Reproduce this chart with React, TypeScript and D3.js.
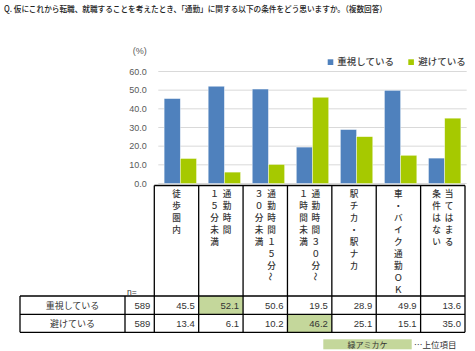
import React from "react";
import * as d3 from "d3";

const title = "Q. 仮にこれから転職、就職することを考えたとき、「通勤」に関する以下の条件をどう思いますか。（複数回答）";
const seriesNames = ["重視している", "避けている"];
const categoryLines: string[][] = [
  ["徒歩圏内"],
  ["通勤時間", "１５分未満"],
  ["通勤時間１５分～", "３０分未満"],
  ["通勤時間３０分～", "１時間未満"],
  ["駅チカ・駅ナカ"],
  ["車・バイク通勤ＯＫ"],
  ["当てはまる", "条件はない"],
];
const juushi = [45.5, 52.1, 50.6, 19.5, 28.9, 49.9, 13.6];
const sake = [13.4, 6.1, 10.2, 46.2, 25.1, 15.1, 35.0];
const nValues = [589, 589];
const highlights: [number, number][] = [
  [0, 1],
  [1, 3],
];
const yTicks = [0, 10, 20, 30, 40, 50, 60];

const BLUE = "#4f81bd";
const GREEN = "#a6c900";
const HL = "#c4d79b";
const JP = "'Noto Sans CJK JP', 'Noto Sans', sans-serif";
const NUM = "'Liberation Sans', Arial, sans-serif";

export default function App() {
  const W = 475;
  const H = 351;
  const idx = d3.range(juushi.length).map(String);
  const x = d3.scaleBand<string>().domain(idx).range([158.3, 466.7]).padding(0);
  const xs = d3
    .scaleBand<string>()
    .domain(["0", "1"])
    .range([0, x.bandwidth()])
    .paddingInner(0)
    .paddingOuter(0.36);
  const y = d3.scaleLinear().domain([0, 60]).range([183.5, 71.5]);
  const tx = d3.scaleBand<string>().domain(idx).range([154.3, 465]).padding(0);
  const series = [juushi, sake];
  const colors = [BLUE, GREEN];

  const tableTop = 185.5;
  const rowY = [296, 314.3, 332.3];
  const leftX = 20;
  const nX = 125;

  return (
    <svg
      width={W}
      height={H}
      style={{ position: "absolute", left: 0, top: 0, background: "#fff" }}
    >
      <rect x={0} y={0} width={W} height={H} fill="#fff" />
      <text x={4} y={12} fontFamily={JP} fontSize={8.5} fill="#222" fontWeight={500} textLength={383} lengthAdjust="spacingAndGlyphs">
        {title}
      </text>
      <text x={146.7} y={50.7} textAnchor="end" dominantBaseline="central" fontFamily={NUM} fontSize={9} fill="#595959">
        (%)
      </text>
      {/* legend */}
      {seriesNames.map((s, i) => (
        <g key={s}>
          <rect x={[327.7, 408.3][i]} y={59.3} width={5.6} height={5.7} fill={colors[i]} />
          <text x={[337.3, 418.3][i]} y={60.7} dominantBaseline="central" fontFamily={JP} fontSize={9.5} fill="#404040" fontWeight={500}>
            {s}
          </text>
        </g>
      ))}
      {/* grid + y labels */}
      {yTicks.map((t) => (
        <g key={t}>
          <line x1={158.3} x2={466.7} y1={y(t)} y2={y(t)} stroke="#d9d9d9" strokeWidth={1} />
          <text x={146.7} y={y(t)} textAnchor="end" dominantBaseline="central" fontFamily={NUM} fontSize={9} fill="#595959">
            {t.toFixed(1)}
          </text>
        </g>
      ))}
      {/* bars */}
      {series.map((vals, si) =>
        vals.map((v, ci) => (
          <rect
            key={`${si}-${ci}`}
            x={(x(String(ci)) as number) + (xs(String(si)) as number)}
            y={y(v)}
            width={xs.bandwidth()}
            height={y(0) - y(v)}
            fill={colors[si]}
            stroke="#ffffff"
            strokeOpacity={0.6}
            strokeWidth={0.7}
          />
        ))
      )}
      {/* table highlights */}
      {highlights.map(([r, c]) => (
        <rect key={`h${r}${c}`} x={tx(String(c))} y={rowY[r]} width={tx.bandwidth()} height={rowY[r + 1] - rowY[r]} fill={HL} />
      ))}
      {/* header lines */}
      <line x1={154.3} x2={465} y1={tableTop} y2={tableTop} stroke="#000" strokeWidth={1.3} />
      {idx.concat([String(idx.length)]).map((k) => {
        const xx = 154.3 + Number(k) * tx.bandwidth();
        return <line key={`v${k}`} x1={xx} x2={xx} y1={tableTop} y2={rowY[2]} stroke="#000" strokeWidth={1.3} />;
      })}
      {rowY.map((ry) => (
        <line key={`r${ry}`} x1={leftX} x2={465} y1={ry} y2={ry} stroke="#000" strokeWidth={1.3} />
      ))}
      <line x1={leftX} x2={leftX} y1={rowY[0]} y2={rowY[2]} stroke="#000" strokeWidth={1.3} />
      <line x1={nX} x2={nX} y1={rowY[0]} y2={rowY[2]} stroke="#000" strokeWidth={1.3} />
      <text x={127} y={291.5} dominantBaseline="central" fontFamily={NUM} fontSize={8.5} fill="#333">
        n=
      </text>
      {/* category headers, one character per text, stacked vertically */}
      {categoryLines.map((lines, ci) => {
        const cx = (tx(String(ci)) as number) + tx.bandwidth() / 2;
        return lines.map((line, li) => {
          const lx = lines.length === 1 ? cx : cx + (li === 0 ? 6.2 : -6.2);
          return Array.from(line).map((ch, k) => {
            const cy = 192.5 + k * 12;
            const rot = ch === "～";
            return (
              <text
                key={`${ci}-${li}-${k}`}
                x={lx}
                y={cy}
                textAnchor="middle"
                dominantBaseline="central"
                fontFamily={JP}
                fontSize={8.6}
                fontWeight={500}
                fill="#333"
                transform={rot ? `rotate(90 ${lx} ${cy})` : undefined}
              >
                {ch}
              </text>
            );
          });
        });
      })}
      {/* rows */}
      {series.map((vals, r) => {
        const cy = (rowY[r] + rowY[r + 1]) / 2;
        return (
          <g key={`row${r}`}>
            <text x={(leftX + nX) / 2} y={cy} textAnchor="middle" dominantBaseline="central" fontFamily={JP} fontSize={9} fill="#333">
              {seriesNames[r]}
            </text>
            <text x={154.3 - 4} y={cy} textAnchor="end" dominantBaseline="central" fontFamily={NUM} fontSize={9.5} fill="#333">
              {nValues[r]}
            </text>
            {vals.map((v, ci) => (
              <text
                key={ci}
                x={(tx(String(ci)) as number) + tx.bandwidth() - 4}
                y={cy}
                textAnchor="end"
                dominantBaseline="central"
                fontFamily={NUM}
                fontSize={9.5}
                fill="#333"
              >
                {v.toFixed(1)}
              </text>
            ))}
          </g>
        );
      })}
      {/* bottom legend */}
      <rect x={323.3} y={339.3} width={88.4} height={10} fill={HL} />
      <text x={367.5} y={344.3} textAnchor="middle" dominantBaseline="central" fontFamily={JP} fontSize={8} fill="#333">
        緑アミカケ
      </text>
      <text x={414} y={344.3} dominantBaseline="central" fontFamily={JP} fontSize={8.5} fill="#333">
        …上位項目
      </text>
    </svg>
  );
}
